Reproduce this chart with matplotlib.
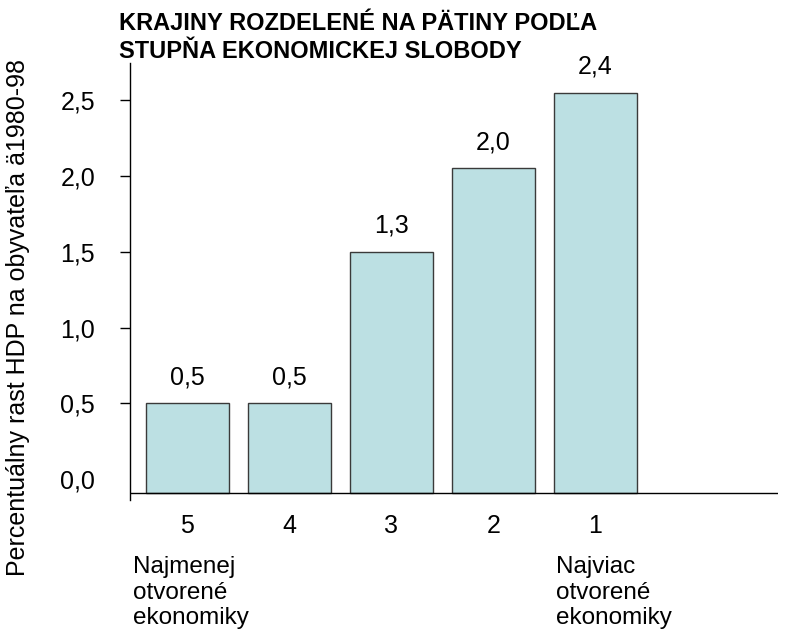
import matplotlib
matplotlib.use("Agg")
import matplotlib.pyplot as plt
import numpy as np

plt.rcParams['font.family'] = ['Liberation Sans', 'DejaVu Sans']

# Data
categories = ["5", "4", "3", "2", "1"]
bar_values = [0.5, 0.5, 1.5, 2.05, 2.55]          # heights as drawn against the axis
value_labels = ["0,5", "0,5", "1,3", "2,0", "2,4"]  # printed labels
y_ticks = [0.0, 0.5, 1.0, 1.5, 2.0, 2.5]
y_tick_labels = ["0,0", "0,5", "1,0", "1,5", "2,0", "2,5"]

title_lines = ["KRAJINY ROZDELENÉ NA PÄTINY PODĽA", "STUPŇA EKONOMICKEJ SLOBODY"]
y_label = "Percentuálny rast HDP na obyvateľa ä1980-98"
left_note = "Najmenej\notvorené\nekonomiky"
right_note = "Najviac\notvorené\nekonomiky"

floor = -0.092   # where the category axis sits

fig = plt.figure(figsize=(7.92, 6.37), dpi=100)
ax = fig.add_axes([0.164, 0.215, 0.818, 0.686])

x = np.arange(len(categories))
bars = ax.bar(x, np.array(bar_values) - floor, bottom=floor, width=0.81,
              color="#bce0e3", edgecolor="#3a3a3a", linewidth=1.0)

for xi, v, lab in zip(x, bar_values, value_labels):
    ax.annotate(lab, (xi, v), xytext=(0, 10), textcoords="offset points",
                ha="center", va="bottom", fontsize=18)

ax.set_xlim(-0.564, 5.79)
ax.set_ylim(-0.139, 2.746)

ax.axhline(floor, color="black", linewidth=1.0)
for s in ["top", "right", "bottom"]:
    ax.spines[s].set_visible(False)
ax.spines["left"].set_linewidth(1.0)

ax.set_yticks(y_ticks)
ax.set_yticklabels(y_tick_labels, fontsize=18)
ax.tick_params(axis="y", direction="out", length=7, pad=18, width=1)
ax.get_yticklines()[0].set_visible(False)

ax.set_xticks(x)
ax.set_xticklabels(categories, fontsize=18)
ax.tick_params(axis="x", length=0, pad=10)

# title, one text per line
for i, line in enumerate(title_lines):
    fig.text(119 / 792, 1 - (23 + 29 * i) / 637, line, fontsize=17,
             fontweight="bold", ha="left", va="center")
fig.text(18 / 792, 1 - 318 / 637, y_label, rotation=90, fontsize=18,
         ha="center", va="center")
fig.text(133 / 792, 1 - 556 / 637, left_note, fontsize=17.5, ha="left",
         va="top", linespacing=1.22)
fig.text(556 / 792, 1 - 556 / 637, right_note, fontsize=17.5, ha="left",
         va="top", linespacing=1.22)

fig.savefig("out.png", dpi=100)
